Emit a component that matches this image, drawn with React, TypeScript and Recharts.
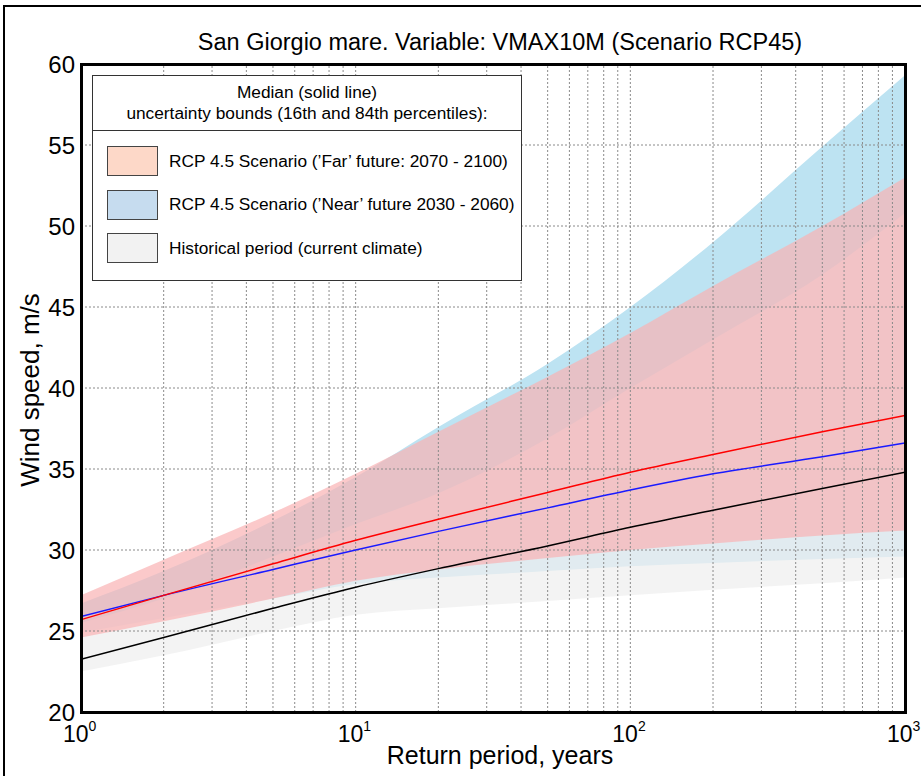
import React from 'react';
import { ComposedChart, Area, Line, XAxis, YAxis, ReferenceLine } from 'recharts';

const periods = [1, 2, 5, 10, 20, 50, 100, 200, 500, 1000];
const histMedian = [23.25, 24.6, 26.4, 27.7, 28.85, 30.25, 31.4, 32.45, 33.8, 34.8];
const nearMedian = [25.9, 27.2, 28.8, 30.0, 31.15, 32.6, 33.7, 34.7, 35.75, 36.6];
const farMedian = [25.7, 27.2, 29.15, 30.6, 31.9, 33.55, 34.8, 35.9, 37.3, 38.3];
const histLow = [22.5, 23.5, 25.0, 26.0, 26.4, 26.85, 27.2, 27.55, 27.95, 28.3];
const histHigh = [25.5, 27.0, 29.6, 31.6, 33.5, 36.9, 40.0, 43.0, 47.0, 50.8];
const nearLow = [24.9, 25.8, 27.0, 27.9, 28.3, 28.7, 29.0, 29.2, 29.45, 29.6];
const nearHigh = [26.7, 28.7, 31.8, 34.5, 37.6, 41.5, 45.0, 49.0, 54.9, 59.3];
const farLow = [24.6, 25.6, 27.0, 28.1, 28.8, 29.5, 30.0, 30.4, 30.9, 31.2];
const farHigh = [27.2, 29.4, 32.3, 34.7, 37.3, 40.7, 43.4, 46.3, 50.0, 53.0];

const yTicks = [20, 25, 30, 35, 40, 45, 50, 55, 60];
const xTicks = [1, 10, 100, 1000];
const xTickExponents = ['0', '1', '2', '3'];
const gridX = [2, 3, 4, 5, 6, 7, 8, 9, 10, 20, 30, 40, 50, 60, 70, 80, 90, 100, 200, 300, 400, 500, 600, 700, 800, 900];
const gridY = [25, 30, 35, 40, 45, 50, 55];

const titleText = 'San Giorgio mare. Variable: VMAX10M (Scenario RCP45)';
const xLabel = 'Return period, years';
const yLabel = 'Wind speed, m/s';
const legendHeader = ['Median (solid line)', 'uncertainty bounds (16th and 84th percentiles):'];
const legendItems = [
  { label: 'RCP 4.5 Scenario (\u2019Far\u2019 future: 2070 - 2100)', color: '#fdd8c8' },
  { label: 'RCP 4.5 Scenario (\u2019Near\u2019 future 2030 - 2060)', color: '#c6dcef' },
  { label: 'Historical period (current climate)', color: '#f2f2f2' },
];

const data = periods.map((T, i) => ({
  T,
  hist: [histLow[i], histHigh[i]],
  near: [nearLow[i], nearHigh[i]],
  far: [farLow[i], farHigh[i]],
  histMed: histMedian[i],
  nearMed: nearMedian[i],
  farMed: farMedian[i],
}));

const FONT = "'Liberation Sans', Arial, Helvetica, sans-serif";

const XTick = (props: any) => {
  const { x, y, payload } = props;
  const i = xTicks.indexOf(payload.value);
  return (
    <text x={x - 18} y={y + 30} textAnchor="start" fontSize={23} fontFamily={FONT} fill="#000">
      <tspan>10</tspan>
      <tspan dy={-11} fontSize={14}>{xTickExponents[i]}</tspan>
    </text>
  );
};

export default function App() {
  return (
    <div style={{ position: 'absolute', left: 0, top: 0, width: 921, height: 776, overflow: 'hidden', background: '#fff', fontFamily: FONT }}>
      <div style={{ position: 'absolute', left: 3, top: 5, width: 2000, height: 2000, border: '2px solid #000' }} />
      <div style={{ position: 'absolute', left: 0, top: 0 }}>
        <ComposedChart width={921} height={776} data={data} margin={{ top: 64, right: 16, bottom: 0, left: 0 }}>
          <XAxis
            dataKey="T"
            type="number"
            scale="log"
            domain={[1, 1000]}
            ticks={xTicks}
            allowDataOverflow
            height={64}
            tickLine={false}
            axisLine={false}
            tickSize={0}
            tickMargin={0}
            tick={<XTick />}
            interval={0}
          />
          <YAxis
            type="number"
            domain={[20, 60]}
            ticks={yTicks}
            width={81}
            tickLine={false}
            axisLine={false}
            tickSize={0}
            tickMargin={6}
            interval={0}
            tick={{ fontSize: 24, fill: '#000', fontFamily: FONT }}
          />
          <Area dataKey="near" type="monotone" stroke="none" fill="#bde3f2" fillOpacity={1} isAnimationActive={false} dot={false} activeDot={false} />
          <Area dataKey="hist" type="monotone" stroke="none" fill="#efefef" fillOpacity={0.72} isAnimationActive={false} dot={false} activeDot={false} />
          <Area dataKey="far" type="monotone" stroke="none" fill="#fab2b4" fillOpacity={0.7} isAnimationActive={false} dot={false} activeDot={false} />
          {gridX.map((v) => (
            <ReferenceLine key={'gx' + v} x={v} stroke="#8a8a8a" strokeDasharray="2 2" strokeWidth={1} />
          ))}
          {gridY.map((v) => (
            <ReferenceLine key={'gy' + v} y={v} stroke="#8a8a8a" strokeDasharray="2 2" strokeWidth={1} />
          ))}
          <Line dataKey="histMed" type="monotone" stroke="#000" strokeWidth={1.5} dot={false} activeDot={false} isAnimationActive={false} />
          <Line dataKey="nearMed" type="monotone" stroke="#1a1aff" strokeWidth={1.5} dot={false} activeDot={false} isAnimationActive={false} />
          <Line dataKey="farMed" type="monotone" stroke="#ff0000" strokeWidth={1.5} dot={false} activeDot={false} isAnimationActive={false} />
        </ComposedChart>
      </div>
      <div style={{ position: 'absolute', left: 79.5, top: 62.5, width: 821, height: 645, border: '3px solid #000', pointerEvents: 'none' }} />
      <div style={{ position: 'absolute', left: 0, width: 1000, top: 29, textAlign: 'center', fontSize: 23.5, lineHeight: '27px', color: '#000' }}>{titleText}</div>
      <div style={{ position: 'absolute', left: 0, width: 1000, top: 741, textAlign: 'center', fontSize: 25, lineHeight: '28px', color: '#000' }}>{xLabel}</div>
      <div style={{ position: 'absolute', left: 30, top: 390, width: 0, height: 0 }}>
        <div style={{ position: 'absolute', left: -150, top: -14, width: 300, textAlign: 'center', fontSize: 26, lineHeight: '28px', transform: 'rotate(-90deg)', color: '#000' }}>{yLabel}</div>
      </div>
      <div style={{ position: 'absolute', left: 92, top: 75, width: 428, height: 204, border: '1.5px solid #333', background: '#fff', color: '#000' }}>
        <div style={{ height: 54, borderBottom: '1.5px solid #333', display: 'flex', flexDirection: 'column', justifyContent: 'center', alignItems: 'center', fontSize: 17.3, lineHeight: '21px' }}>
          {legendHeader.map((h) => (<div key={h}>{h}</div>))}
        </div>
        {legendItems.map((it, k) => (
          <div key={it.label} style={{ position: 'absolute', left: 14, top: 70 + k * 43.5, height: 30, display: 'flex', alignItems: 'center' }}>
            <div style={{ width: 49, height: 28, background: it.color, border: '1.5px solid #444' }} />
            <div style={{ marginLeft: 11, fontSize: 17.3, whiteSpace: 'nowrap' }}>{it.label}</div>
          </div>
        ))}
      </div>
    </div>
  );
}
